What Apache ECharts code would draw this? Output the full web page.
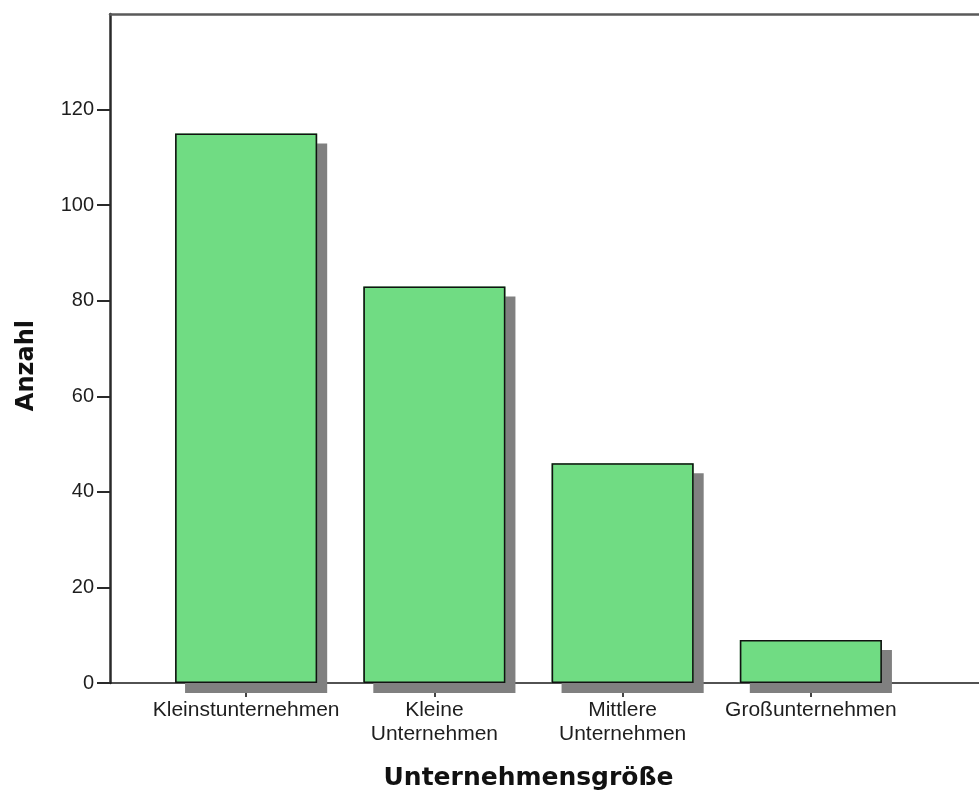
<!DOCTYPE html>
<html>
<head>
<meta charset="utf-8">
<title>Unternehmensgröße</title>
<script src="https://cdn.jsdelivr.net/npm/echarts@6/dist/echarts.min.js"></script>
<style>
  html, body { margin: 0; padding: 0; background: #ffffff; }
  #chart { width: 979px; height: 794px; }
</style>
</head>
<body>
<div id="chart"></div>
<script>
// Company size distribution (counts)
const categories = ['Kleinstunternehmen', 'Kleine\nUnternehmen', 'Mittlere\nUnternehmen', 'Großunternehmen'];
const counts = [115, 83, 46, 9];
const yTicks = [0, 20, 40, 60, 80, 100, 120];
const xTitle = 'Unternehmensgröße';
const yTitle = 'Anzahl';

const labelFont = 'Liberation Sans, Arial, sans-serif';
const titleFont = 'DejaVu Sans, Verdana, sans-serif';

const chart = echarts.init(document.getElementById('chart'), null, { renderer: 'canvas' });

chart.setOption({
  animation: false,
  backgroundColor: '#ffffff',
  grid: [
    // frame: left value axis, baseline and top rule (extends past the right edge)
    { left: 110, top: 14, width: 920, bottom: 111, containLabel: false, outerBoundsMode: 'none' },
    // bars
    { left: 152, top: 14, width: 753, bottom: 111, containLabel: false, outerBoundsMode: 'none' }
  ],
  xAxis: [
    {
      gridIndex: 0, type: 'value', position: 'bottom', min: 0, max: 1,
      axisLine: { show: true, onZero: false, lineStyle: { color: '#1a1a1a', width: 1.5 } },
      axisTick: { show: false }, axisLabel: { show: false }, splitLine: { show: false }
    },
    {
      gridIndex: 0, type: 'value', position: 'top', min: 0, max: 1,
      axisLine: { show: true, onZero: false, lineStyle: { color: '#5a5a5a', width: 2.5 } },
      axisTick: { show: false }, axisLabel: { show: false }, splitLine: { show: false }
    },
    {
      gridIndex: 1, type: 'category', data: categories, position: 'bottom',
      axisLine: { show: false },
      axisTick: { show: true, alignWithLabel: true, length: 14, lineStyle: { color: '#444', width: 2 } },
      axisLabel: {
        interval: 0, margin: 15, color: '#1e1e1e', fontFamily: labelFont, fontSize: 21, lineHeight: 24
      },
      name: xTitle, nameLocation: 'middle', nameGap: 83,
      nameTextStyle: { fontFamily: titleFont, fontWeight: 'bold', fontSize: 25, color: '#111' }
    }
  ],
  yAxis: [
    {
      gridIndex: 0, type: 'value', min: 0, max: 140,
      axisLine: { show: true, lineStyle: { color: '#2a2a2a', width: 2.5 } },
      axisTick: { show: true, length: 13, customValues: yTicks, lineStyle: { color: '#2a2a2a', width: 2 } },
      axisLabel: { margin: 16, customValues: yTicks, color: '#1e1e1e', fontFamily: labelFont, fontSize: 20 },
      splitLine: { show: false }
    },
    {
      gridIndex: 1, type: 'value', min: 0, max: 140, show: false
    }
  ],
  graphic: [
    {
      type: 'text', left: 15, top: 320, rotation: Math.PI / 2,
      style: {
        text: yTitle, fontFamily: titleFont, fontWeight: 'bold', fontSize: 24, fill: '#111'
      }
    }
  ],
  series: [
    {
      // drop shadow layer
      type: 'bar', xAxisIndex: 2, yAxisIndex: 1, data: counts, barWidth: '75.5%',
      silent: true,
      itemStyle: {
        color: '#70dc83', borderWidth: 0,
        shadowColor: '#808080', shadowBlur: 0, shadowOffsetX: 10, shadowOffsetY: 10
      }
    },
    {
      // bars with outline
      type: 'bar', xAxisIndex: 2, yAxisIndex: 1, data: counts, barWidth: '75.5%',
      barGap: '-100%',
      itemStyle: { color: '#70dc83', borderColor: '#111', borderWidth: 1.6 }
    }
  ]
});
</script>
</body>
</html>
